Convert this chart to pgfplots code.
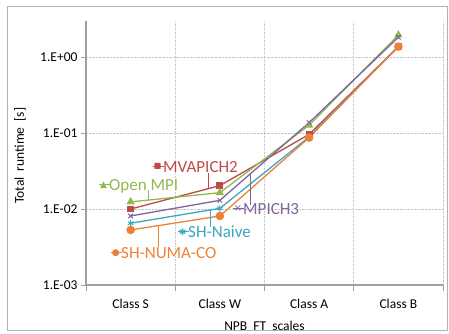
\documentclass[border=0pt]{standalone}
\usepackage{pgfplots}
\pgfplotsset{compat=1.18}
\usepackage{fontspec}
\setmainfont{Carlito}
\newfontfamily\sym{DejaVu Sans}
\definecolor{cMV}{RGB}{190,75,72}
\definecolor{cOM}{RGB}{145,185,80}
\definecolor{cMP}{RGB}{128,100,162}
\definecolor{cSN}{RGB}{60,165,195}
\definecolor{cSO}{RGB}{237,130,55}
\newsavebox\kb
\newcommand\key[2]{\sbox\kb{\sym\fontsize{#1}{#1}\selectfont #2}\makebox[11pt]{\rlap{\rule[0.31em]{11pt}{0.9pt}}\hfil\raisebox{\dimexpr0.31em+0.45pt-0.5\ht\kb+0.5\dp\kb\relax}{\usebox\kb}\hfil}}
\begin{document}
\begin{tikzpicture}
\path[use as bounding box] (0,0) rectangle (449pt,334pt);
\draw[gray!60, line width=1pt] (7pt,3pt) rectangle (447pt,327pt);
\begin{axis}[
  at={(86pt,49pt)}, anchor=south west,
  scale only axis, width=357pt, height=264pt,
  ymode=log, ymin=1e-3, ymax=2.98,
  xmin=-0.5, xmax=3.5,
  xtick={0,1,2,3}, xticklabels={Class S, Class W, Class A, Class B},
  major x tick style={draw=none},
  minor xtick={-0.5,0.5,1.5,2.5,3.5},
  xminorgrids,
  ytick={0.001,0.01,0.1,1}, yticklabels={1.E-03,1.E-02,1.E-01,1.E+00},
  yminorticks=false, ymajorgrids,
  grid style={densely dotted, gray!45, line width=0.6pt},
  minor grid style={densely dotted, gray!45, line width=0.6pt},
  axis lines=left,
  axis line style={-, gray!75, line width=1.3pt},
  tick align=outside,
  major tick length=5pt, minor tick length=6pt,
  every tick/.style={gray!75, line width=0.8pt},
  tick label style={font=\fontsize{13.5}{15}\selectfont},
  xticklabel style={yshift=-6pt},
  label style={font=\fontsize{13.5}{15}\selectfont},
  xlabel={NPB\ \ FT\ \ scales},
  ylabel={Total\ \ runtime\ \ [s]},
  xlabel style={at={(axis description cs:0.5,-0.155)}, anchor=center},
  ylabel style={at={(axis description cs:-0.185,0.49)}, anchor=center},
  clip=false,
]
\addplot[cMV, line width=1.3pt, mark=square*, mark size=2.8pt] coordinates {(0,0.0100)(1,0.0203)(2,0.096)(3,1.37)};
\addplot[cOM, line width=1.3pt, mark=triangle*, mark size=3.6pt] coordinates {(0,0.0124)(1,0.0164)(2,0.127)(3,1.95)};
\addplot[cMP, line width=1.3pt, mark=x, mark size=3.2pt, mark options={line width=1pt}] coordinates {(0,0.0081)(1,0.0130)(2,0.137)(3,1.82)};
\addplot[cSN, line width=1.3pt, mark=asterisk, mark size=3.2pt, mark options={line width=1pt}] coordinates {(0,0.0065)(1,0.0102)(2,0.089)(3,1.37)};
\addplot[cSO, line width=1.3pt, mark=*, mark size=3.6pt] coordinates {(0,0.0053)(1,0.0081)(2,0.087)(3,1.37)};
\end{axis}
% leader lines
\draw[cMV, line width=1pt] (208pt,161pt) -- (208pt,145.2pt);
\draw[cOM, line width=1pt] (148pt,144pt) -- (148pt,133.8pt);
\draw[cMP, line width=1pt] (250pt,160pt) -- (250pt,129pt);
\draw[cSN, line width=1pt] (210pt,124pt) -- (210pt,107pt);
\draw[cSO, line width=1pt] (158pt,108.2pt) -- (158pt,87pt);
% data labels
\begin{scope}[every node/.style={anchor=base west, inner sep=0pt, font=\fontsize{17}{19}\selectfont}]
\node[text=cMV] at (152pt,161.5pt) {\key{8}{■}MVAPICH2};
\node[text=cOM] at (98pt,143.5pt) {\key{9}{▲}Open MPI};
\node[text=cMP] at (232pt,119.5pt) {\key{10}{×}MPICH3};
\node[text=cSN] at (177pt,96.5pt) {\key{9}{✱}SH-Naive};
\node[text=cSO] at (110pt,75.5pt) {\key{9}{●}SH-NUMA-CO};
\end{scope}
\end{tikzpicture}
\end{document}
